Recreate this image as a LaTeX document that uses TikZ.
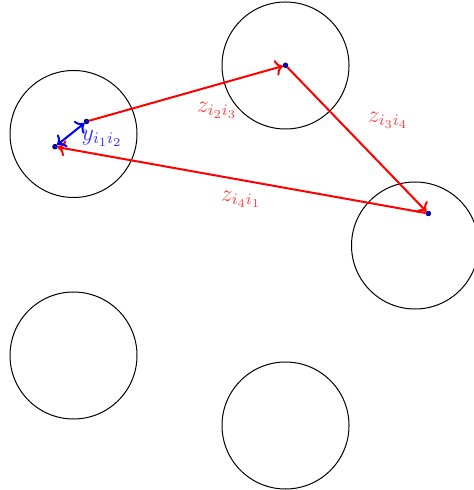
\documentclass[tikz,border=0pt]{standalone}
\usepackage{amsmath}
\usetikzlibrary{arrows.meta,positioning}

\begin{document}
\begin{tikzpicture}[x=0.5pt,y=-0.5pt,
  ball/.style={circle,draw=black,line width=0.5pt,minimum size=63.5pt,inner sep=0pt},
  pt/.style={circle,draw=black,fill=blue,line width=0.3pt,minimum size=2.4pt,inner sep=0pt},
  zarrow/.style={->,draw=red,line width=1pt},
  yarrow/.style={<->,draw=blue,line width=1pt},
  zlabel/.style={text=red!75,font=\large},
  ylabel/.style={text=blue!80,font=\large}
]
\useasboundingbox (0,0) rectangle (473,490);
% the five disks
\node[ball] (c1) at (73.5,134) {};
\node[ball] (c2) at (285.5,65.5) {};
\node[ball] (c3) at (415,245.5) {};
\node[ball] (c4) at (73.5,355.5) {};
\node[ball] (c5) at (285.5,425.5) {};
% points
\node[pt] (p1) at (86.5,121.5) {};
\node[pt] (p2) at (285.5,65.3) {};
\node[pt] (p3) at (428.3,213.5) {};
\node[pt] (p4) at (55,146.7) {};
\draw[zarrow] (p1) -- (p2);
\draw[zarrow] (p2) -- (p3);
\draw[zarrow] (p3) -- (p4);
\draw[yarrow] (p1) -- (p4);
\node[zlabel] (l12) at (217,110) {$z_{i_2i_3}$};
\node[zlabel] (l34) at (388,120) {$z_{i_3i_4}$};
\node[zlabel] (l41) at (241,199) {$z_{i_4i_1}$};
\node[ylabel] (ly) at (102,138) {$y_{i_1i_2}$};
\end{tikzpicture}
\end{document}
